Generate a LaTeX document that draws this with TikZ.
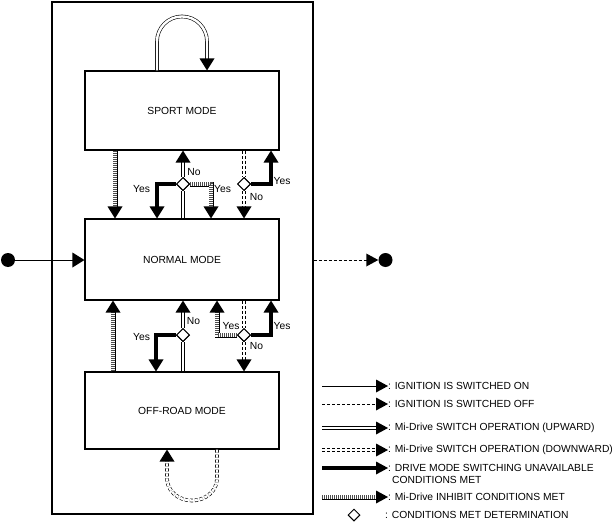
\documentclass[tikz,border=0pt]{standalone}
\usepackage{fontspec}
\setmainfont{Liberation Sans}
\usetikzlibrary{shapes.geometric,decorations.markings}
\tikzset{
  head/.style={shorten >=6pt,postaction={decorate,decoration={markings,
    mark=at position 1 with {\fill[black] (0,0) -- (-12pt,7.5pt) -- (-12pt,-7.5pt) -- cycle;}}}},
  lhead/.style={shorten >=6pt,postaction={decorate,decoration={markings,
    mark=at position 1 with {\fill[black] (0,0) -- (-12pt,6.5pt) -- (-12pt,-6.5pt) -- cycle;}}}},
}
\begin{document}
\begin{tikzpicture}[x=1pt,y=-1pt,font=\fontsize{10.3}{12}\selectfont]
\tikzstyle{mode}=[draw,line width=1.1pt,minimum width=194pt,inner sep=0pt]
\tikzstyle{cond}=[draw,diamond,fill=white,line width=1pt,minimum size=13pt,inner sep=0pt]
\tikzstyle{lbl}=[inner sep=0pt]
\tikzstyle{ignon}=[line width=0.8pt]
\tikzstyle{ignoff}=[line width=0.8pt,dash pattern=on 3pt off 2pt]
\tikzstyle{swup}=[line width=0.6pt,double=white,double distance=2.4pt]
\tikzstyle{swdown}=[swup,dash pattern=on 3pt off 2pt]
\tikzstyle{unavail}=[line width=4.5pt]
\tikzstyle{inhibit}=[line width=5pt,postaction={draw=white,line width=3.4pt},
  postaction={draw=black!70,line width=3.4pt,dash pattern=on 1pt off 1pt}]
\tikzstyle{dot}=[fill,circle,inner sep=0pt,minimum size=14pt]
\useasboundingbox (0,0) rectangle (614,530);
% frame and modes
\path (182.5,258) node[draw,line width=1.1pt,minimum width=261pt,minimum height=512pt] (frame) {};
\path (182,110.5) node[mode,minimum height=79pt] (sport) {SPORT MODE};
\path (182,259.5) node[mode,minimum height=81pt] (normal) {NORMAL MODE};
\path (182,410.5) node[mode,minimum height=77pt] (offroad) {OFF-ROAD MODE};
\path (183,184) node[cond] (c1) {};
\path (244,184) node[cond] (c2) {};
\path (183,335) node[cond] (c3) {};
\path (244,335) node[cond] (c4) {};
\path (8,260) node[dot] (start) {};
\path (385.5,260) node[dot] (stop) {};
% sport <-> normal
\draw[inhibit,head] ([xshift=-67pt]sport.south) -- ([xshift=-67pt]normal.north);
\draw[swup] (normal.north -| c1) -- (c1.south);
\draw[swup,head] (c1.north) -- (sport.south -| c1);
\draw[unavail,head] (c1.west) -| ([xshift=-25pt]normal.north);
\draw[inhibit,head] (c1.east) -| ([xshift=29pt]normal.north);
\draw[swdown] (sport.south -| c2) -- (c2.north);
\draw[swdown,head] (c2.south) -- (normal.north -| c2);
\draw[unavail,head] (c2.east) -| ([xshift=89pt]sport.south);
% normal <-> off-road
\draw[inhibit,head] ([xshift=-69pt]offroad.north) -- ([xshift=-69pt]normal.south);
\draw[swup] (offroad.north -| c3) -- (c3.south);
\draw[swup,head] (c3.north) -- (normal.south -| c3);
\draw[unavail,head] (c3.west) -| ([xshift=-26pt]offroad.north);
\draw[swdown] (normal.south -| c4) -- (c4.north);
\draw[swdown,head] (c4.south) -- (offroad.north -| c4);
\draw[inhibit,head] (c4.west) -| ([xshift=35pt]normal.south);
\draw[unavail,head] (c4.east) -| ([xshift=89pt]normal.south);
% loops
\draw[swup,head] ([xshift=-25pt]sport.north) -- ++(0,-29)
  arc[start angle=180,end angle=0,radius=25pt] -- ([xshift=25pt]sport.north);
\draw[swdown,head] ([xshift=35pt]offroad.south) -- ++(0,29)
  arc[start angle=0,end angle=-180,x radius=25pt,y radius=22pt] -- ([xshift=-15pt]offroad.south);
% ignition
\draw[ignon,head] (start) -- (normal.west |- start);
\draw[ignoff,lhead] (frame.east |- stop) -- (stop.west);
% labels
\path (194,172) node[lbl] (n1) {No};
\path (141.5,189) node[lbl] (y1) {Yes};
\path (222.5,189) node[lbl] (y2) {Yes};
\path (256.5,197.5) node[lbl] (n2) {No};
\path (282,181.5) node[lbl] (y3) {Yes};
\path (193.5,321) node[lbl] (n3) {No};
\path (141.5,337.5) node[lbl] (y4) {Yes};
\path (256.5,346.5) node[lbl] (n4) {No};
\path (231,326.5) node[lbl] (y5) {Yes};
\path (282,326.5) node[lbl] (y6) {Yes};
% legend
\path (388,386) node[lbl,anchor=west] (k1) {: IGNITION IS SWITCHED ON};
\path (388,404) node[lbl,anchor=west] (k2) {: IGNITION IS SWITCHED OFF};
\path (388,428) node[lbl,anchor=west] (k3) {: Mi-Drive SWITCH OPERATION (UPWARD)};
\path (388,450) node[lbl,anchor=west] (k4) {: Mi-Drive SWITCH OPERATION (DOWNWARD)};
\path (388,468) node[lbl,anchor=west] (k5) {: DRIVE MODE SWITCHING UNAVAILABLE};
\path (392,480) node[lbl,anchor=west] (k5b) {CONDITIONS MET};
\path (388,497) node[lbl,anchor=west] (k6) {: Mi-Drive INHIBIT CONDITIONS MET};
\path (354,515) node[cond,minimum size=12pt] (k7) {};
\path (385,515) node[lbl,anchor=west] (k7t) {: CONDITIONS MET DETERMINATION};
\coordinate (s1) at (322,386);
\coordinate (s2) at (322,404);
\coordinate (s3) at (322,428);
\coordinate (s4) at (322,450);
\coordinate (s5) at (322,468);
\coordinate (s6) at (322,497);
\draw[ignon,lhead] (s1) -- (k1.west);
\draw[ignoff,lhead] (s2) -- (k2.west);
\draw[swup,lhead] (s3) -- (k3.west);
\draw[swdown,lhead] (s4) -- (k4.west);
\draw[unavail,lhead] (s5) -- (k5.west);
\draw[inhibit,lhead] (s6) -- (k6.west);
% diamonds on top
\foreach \c in {c1,c2,c3,c4} \node[cond] at (\c) {};
\end{tikzpicture}
\end{document}
